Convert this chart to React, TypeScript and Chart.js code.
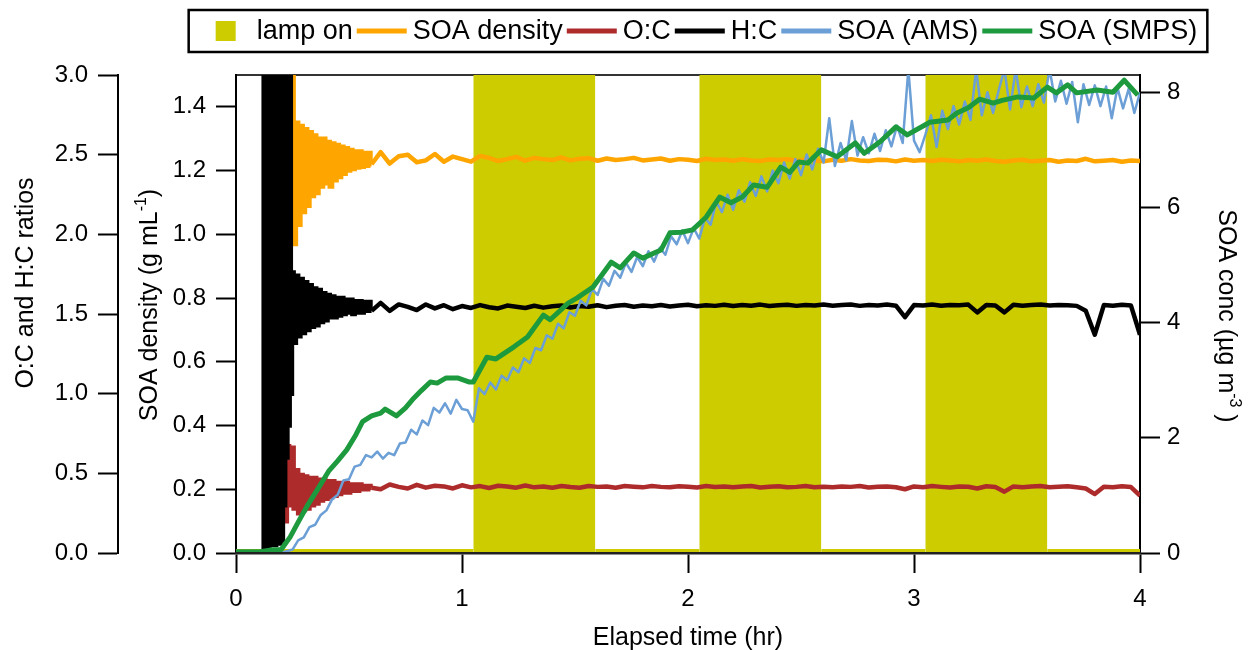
import { useEffect, useRef } from 'react';
import { Chart, registerables } from 'chart.js';

Chart.register(...registerables);

const FONT = "'Liberation Sans', Arial, Helvetica, sans-serif";

// ---- tick labels ----
const X_TICKS = [0, 1, 2, 3, 4];
const RATIO_TICKS = [0, 0.5, 1.0, 1.5, 2.0, 2.5, 3.0];
const DENSITY_TICKS = [0, 0.2, 0.4, 0.6, 0.8, 1.0, 1.2, 1.4];
const CONC_TICKS = [0, 2, 4, 6, 8];

// ---- lamp state (1 = on) ----
const LAMP_T = [0, 1.05, 1.05, 1.59, 1.59, 2.05, 2.05, 2.59, 2.59, 3.05, 3.05, 3.59, 3.59, 4.0];
const LAMP_ON = [0, 0, 1, 1, 0, 0, 1, 1, 0, 0, 1, 1, 0, 0];

// ---- SOA density (g/mL) ----
const DENSITY_EARLY_T0 = 0.23;
const DENSITY_EARLY_DT = 0.01;
const DENSITY_EARLY = [1.60, 1.00, 1.55, 0.97, 1.35, 1.03, 1.34, 1.07, 1.33, 1.09, 1.32, 1.12, 1.31, 1.13, 1.30, 1.15, 1.30, 1.16, 1.29, 1.15, 1.285, 1.17, 1.28, 1.18, 1.275, 1.19, 1.27, 1.20, 1.265, 1.205, 1.26, 1.21, 1.26, 1.212, 1.255, 1.215, 1.255, 1.22];
const LATE_T0 = 0.64;
const LATE_DT = 0.04;
const DENSITY_LATE = [
  1.258, 1.222, 1.245, 1.250, 1.226, 1.232, 1.252, 1.228, 1.244, 1.236,
  1.228, 1.246, 1.240, 1.230, 1.236, 1.243, 1.231, 1.240, 1.236, 1.233,
  1.241, 1.232, 1.237, 1.239, 1.231, 1.238, 1.233, 1.236, 1.240, 1.232,
  1.235, 1.238, 1.231, 1.236, 1.234, 1.230, 1.237, 1.233, 1.235, 1.231,
  1.236, 1.232, 1.230, 1.235, 1.233, 1.236, 1.230, 1.234, 1.232, 1.229,
  1.234, 1.231, 1.236, 1.232, 1.230, 1.234, 1.233, 1.229, 1.235, 1.231,
  1.233, 1.230, 1.234, 1.232, 1.229, 1.233, 1.231, 1.235, 1.230, 1.228,
  1.232, 1.234, 1.229, 1.231, 1.233, 1.228, 1.232, 1.230, 1.237, 1.229,
  1.231, 1.233, 1.228, 1.232, 1.230,
];

// ---- O:C ratio ----
const OC_EARLY_T0 = 0.12;
const OC_EARLY_DT = 0.01;
const OC_EARLY = [
  0.92, 0.05, 0.10, 0.25, 0.08, 0.20, 0.12, 0.25, 0.15, 0.30,
  0.20, 0.67, 0.30, 0.66, 0.28, 0.52, 0.25, 0.49, 0.27, 0.48,
  0.28, 0.47, 0.30, 0.47, 0.31, 0.46, 0.33, 0.46, 0.34, 0.45,
  0.35, 0.45, 0.36, 0.44, 0.37, 0.44, 0.38, 0.44, 0.38, 0.43,
  0.39, 0.43, 0.39, 0.43, 0.40, 0.42, 0.40, 0.42, 0.41,
];
const OC_LATE = [
  0.40, 0.43, 0.415, 0.405, 0.428, 0.41, 0.422, 0.418, 0.405, 0.425,
  0.412, 0.42, 0.408, 0.422, 0.417, 0.41, 0.424, 0.412, 0.418, 0.41,
  0.42, 0.414, 0.41, 0.421, 0.415, 0.418, 0.41, 0.42, 0.416, 0.412,
  0.42, 0.415, 0.412, 0.419, 0.416, 0.411, 0.42, 0.414, 0.418, 0.412,
  0.417, 0.42, 0.411, 0.416, 0.419, 0.412, 0.415, 0.42, 0.413, 0.416,
  0.412, 0.418, 0.415, 0.42, 0.411, 0.416, 0.418, 0.413, 0.40, 0.418,
  0.413, 0.42, 0.415, 0.411, 0.418, 0.416, 0.405, 0.419, 0.414, 0.385,
  0.418, 0.412, 0.417, 0.42, 0.413, 0.416, 0.419, 0.412, 0.405, 0.37,
  0.416, 0.412, 0.419, 0.414, 0.36,
];

// ---- H:C ratio ----
const HC_EARLY_T0 = 0.12;
const HC_EARLY_DT = 0.005;
const HC_EARLY = [
  3.5, 0.04, 3.5, 0.05, 3.5, 0.04, 3.5, 0.05, 3.5, 0.06,
  3.5, 0.05, 3.5, 0.07, 3.5, 0.06, 3.5, 0.08, 3.5, 0.30,
  3.5, 0.60, 3.5, 0.80, 3.5, 1.00,
];
const HC_MID_T0 = 0.25;
const HC_MID_DT = 0.01;
const HC_MID = [
  1.76, 1.32, 1.74, 1.36, 1.72, 1.38, 1.70, 1.40, 1.68, 1.42,
  1.66, 1.43, 1.65, 1.45, 1.63, 1.46, 1.62, 1.48, 1.61, 1.48,
  1.60, 1.49, 1.60, 1.50, 1.59, 1.51, 1.59, 1.50, 1.58, 1.51,
  1.58, 1.51, 1.575, 1.52, 1.575, 1.52,
];
const HC_LATE = [
  1.57, 1.52, 1.56, 1.545, 1.525, 1.56, 1.535, 1.555, 1.53, 1.55,
  1.538, 1.556, 1.542, 1.535, 1.553, 1.546, 1.538, 1.552, 1.54, 1.548,
  1.554, 1.541, 1.55, 1.546, 1.555, 1.543, 1.552, 1.557, 1.546, 1.553,
  1.549, 1.556, 1.547, 1.554, 1.558, 1.549, 1.555, 1.551, 1.558, 1.55,
  1.556, 1.552, 1.559, 1.55, 1.555, 1.558, 1.551, 1.556, 1.553, 1.559,
  1.552, 1.556, 1.56, 1.551, 1.557, 1.554, 1.559, 1.552, 1.48, 1.556,
  1.553, 1.559, 1.552, 1.557, 1.555, 1.559, 1.51, 1.557, 1.553, 1.51,
  1.558, 1.552, 1.556, 1.559, 1.553, 1.557, 1.555, 1.551, 1.52, 1.37,
  1.556, 1.552, 1.558, 1.553, 1.37,
];

// ---- SOA (AMS), ug/m3 ----
const AMS_T0 = 0.2;
const AMS_DT = 0.025;
const AMS = [
  0.00, 0.03, 0.06, 0.22, 0.27, 0.45, 0.49, 0.66,
  0.74, 0.93, 1.01, 1.26, 1.28, 1.50, 1.53, 1.70,
  1.66, 1.76, 1.64, 1.74, 1.70, 1.90, 1.92, 2.14,
  2.06, 2.30, 2.22, 2.52, 2.44, 2.60, 2.42, 2.66,
  2.50, 2.48, 2.28, 2.86, 2.76, 2.96, 2.84, 3.08,
  3.00, 3.22, 3.14, 3.38, 3.30, 3.56, 3.52, 3.78,
  3.72, 3.98, 3.90, 4.18, 4.12, 4.38, 4.30, 4.58,
  4.48, 4.76, 4.64, 4.90, 4.78, 5.04, 4.88, 5.14,
  4.98, 5.24, 5.06, 5.30, 5.18, 5.50, 5.36, 5.60,
  5.38, 5.64, 5.46, 5.82, 5.70, 6.10, 5.92, 6.22,
  5.96, 6.30, 6.10, 6.44, 6.20, 6.54, 6.28, 6.64,
  6.42, 6.78, 6.50, 6.84, 6.56, 6.92, 6.66, 7.02,
  6.78, 7.55, 6.72, 7.12, 6.82, 7.50, 6.90, 7.22,
  6.94, 7.28, 6.98, 7.34, 7.06, 7.42, 7.12, 8.40,
  7.16, 6.96, 7.26, 7.60, 7.05, 7.68, 7.36, 7.76,
  7.44, 7.84, 7.52, 8.40, 7.60, 8.00, 7.64, 8.04,
  8.40, 7.70, 8.40, 7.74, 8.10, 7.76, 8.14, 7.82,
  8.40, 7.84, 8.20, 7.80, 8.18, 7.48, 8.14, 7.78,
  8.12, 7.76, 8.10, 7.55, 8.08, 7.72, 8.06, 7.64,
  8.00,
];

// ---- SOA (SMPS), ug/m3 ----
const SMPS_T = [0, 0.05, 0.10, 0.15, 0.20, 0.24, 0.28, 0.32, 0.36, 0.41, 0.45, 0.49, 0.53, 0.56, 0.60, 0.64, 0.66, 0.71, 0.75, 0.78, 0.82, 0.86, 0.89, 0.93, 0.98, 1.03, 1.05, 1.11, 1.15, 1.23, 1.29, 1.36, 1.39, 1.47, 1.51, 1.58, 1.66, 1.70, 1.76, 1.80, 1.88, 1.92, 1.97, 2.02, 2.08, 2.14, 2.19, 2.24, 2.29, 2.35, 2.41, 2.45, 2.49, 2.53, 2.59, 2.66, 2.74, 2.78, 2.85, 2.92, 2.97, 3.07, 3.15, 3.19, 3.24, 3.29, 3.35, 3.39, 3.46, 3.53, 3.59, 3.63, 3.68, 3.72, 3.81, 3.88, 3.93, 3.99];
const SMPS_V = [0.02, 0.02, 0.02, 0.05, 0.06, 0.28, 0.57, 0.85, 1.10, 1.42, 1.60, 1.79, 2.05, 2.28, 2.38, 2.43, 2.50, 2.38, 2.52, 2.66, 2.82, 2.97, 2.95, 3.04, 3.04, 2.97, 2.97, 3.40, 3.37, 3.58, 3.75, 4.13, 4.05, 4.34, 4.43, 4.62, 5.05, 4.95, 5.21, 5.12, 5.26, 5.56, 5.57, 5.61, 5.83, 6.18, 6.08, 6.18, 6.39, 6.35, 6.70, 6.61, 6.79, 6.77, 7.00, 6.88, 7.12, 6.94, 7.14, 7.40, 7.26, 7.48, 7.52, 7.64, 7.73, 7.88, 7.81, 7.86, 7.92, 7.90, 8.09, 7.99, 8.13, 7.99, 8.04, 8.00, 8.21, 7.95];

// ---- titles ----
const X_TITLE = 'Elapsed time (hr)';
type Part = { text: string; sup?: boolean };
const RATIO_TITLE: Part[] = [{ text: 'O:C and H:C ratios' }];
const DENSITY_TITLE: Part[] = [{ text: 'SOA density (g mL' }, { text: '-1', sup: true }, { text: ')' }];
const CONC_TITLE: Part[] = [{ text: 'SOA conc (µg m' }, { text: '-3', sup: true }, { text: ' )' }];

const grid = (t0: number, dt: number, vals: number[]) =>
  vals.map((v, i) => ({ x: +(t0 + i * dt).toFixed(4), y: v }));
const pairs = (ts: number[], vs: number[]) => ts.map((t, i) => ({ x: t, y: vs[i] }));

function drawRich(ctx: CanvasRenderingContext2D, parts: Part[], x: number, y: number, rot: number, size: number) {
  const supSize = Math.round(size * 0.62);
  ctx.save();
  ctx.translate(x, y);
  ctx.rotate(rot);
  ctx.textAlign = 'left';
  ctx.textBaseline = 'alphabetic';
  ctx.fillStyle = '#000';
  let total = 0;
  const widths = parts.map((p) => {
    ctx.font = `${p.sup ? supSize : size}px ${FONT}`;
    const w = ctx.measureText(p.text).width;
    total += w;
    return w;
  });
  let cx = -total / 2;
  parts.forEach((p, i) => {
    ctx.font = `${p.sup ? supSize : size}px ${FONT}`;
    ctx.fillText(p.text, cx, p.sup ? -size * 0.45 : 0);
    cx += widths[i];
  });
  ctx.restore();
}

const overlayPlugin = {
  id: 'overlay',
  afterDraw(chart: any) {
    const ctx: CanvasRenderingContext2D = chart.ctx;
    const ca = chart.chartArea;
    ctx.save();
    drawRich(ctx, [{ text: X_TITLE }], (ca.left + ca.right) / 2, 645, 0, 25);
    drawRich(ctx, RATIO_TITLE, 33, 283, -Math.PI / 2, 25);
    drawRich(ctx, DENSITY_TITLE, 157, 305, -Math.PI / 2, 25);
    drawRich(ctx, CONC_TITLE, 1219, 316, Math.PI / 2, 25);

    // legend
    const size = 27;
    ctx.font = `${size}px ${FONT}`;
    const items = chart.data.datasets
      .filter((ds: any) => !ds.legendHidden)
      .map((ds: any) => ({
        label: ds.label as string,
        color: ds.borderColor as string,
        box: !!ds.legendBox,
      }));
    const SYM = 50, GAP1 = 6, GAP2 = 4;
    const ws = items.map((it: any) => ctx.measureText(it.label).width);
    let total = 0;
    items.forEach((_: any, i: number) => { total += SYM + GAP1 + ws[i] + (i < items.length - 1 ? GAP2 : 0); });
    const padL = 12, padR = 10;
    const boxW = total + padL + padR;
    const bx = 698 - boxW / 2, by = 10, bh = 42;
    ctx.lineWidth = 2.5;
    ctx.strokeStyle = '#000';
    ctx.strokeRect(bx, by, boxW, bh);
    let x = bx + padL;
    const my = by + bh / 2;
    items.forEach((it: any, i: number) => {
      if (it.box) {
        ctx.fillStyle = it.color;
        ctx.fillRect(x + SYM / 2 - 10, my - 10, 20, 20);
      } else {
        ctx.strokeStyle = it.color;
        ctx.lineWidth = 5;
        ctx.beginPath();
        ctx.moveTo(x, my);
        ctx.lineTo(x + SYM, my);
        ctx.stroke();
      }
      x += SYM + GAP1;
      ctx.fillStyle = '#000';
      ctx.textAlign = 'left';
      ctx.textBaseline = 'middle';
      ctx.font = `${size}px ${FONT}`;
      ctx.fillText(it.label, x, my + 1);
      x += ws[i] + GAP2;
    });
    ctx.restore();
  },
};

const tickFont = { family: FONT, size: 24 };

function yAxis(position: 'left' | 'right', min: number, max: number, ticks: number[], digits: number, width: number, weight: number) {
  return {
    type: 'linear' as const,
    position,
    weight,
    min,
    max,
    afterBuildTicks: (s: any) => { s.ticks = ticks.map((v) => ({ value: v })); },
    afterFit: (s: any) => { s.width = width; },
    ticks: {
      font: tickFont,
      color: '#000',
      padding: position === 'left' ? 10 : 7,
      autoSkip: false,
      callback: (v: any) => Number(v).toFixed(digits),
    },
    grid: { display: true, drawOnChartArea: false, drawTicks: true, tickLength: 20, tickWidth: 2, tickColor: '#000' },
    border: { display: true, color: '#000', width: 2 },
  };
}

function splitSeries(label: string, color: string, axis: string, early: { x: number; y: number }[], late: { x: number; y: number }[], order: number) {
  const base = { yAxisID: axis, borderColor: color, borderWidth: 4.5, pointRadius: 0, fill: false, order };
  return [
    { ...base, label, data: early, stepped: 'middle' },
    { ...base, label, data: [early[early.length - 1], ...late], borderJoinStyle: 'round', legendHidden: true },
  ];
}

export default function App() {
  const ref = useRef<HTMLCanvasElement | null>(null);
  useEffect(() => {
    if (!ref.current) return;
    const lampColor = '#cccc00';
    const datasets: any[] = [
      {
        label: 'lamp on',
        data: pairs(LAMP_T, LAMP_ON),
        yAxisID: 'yL',
        borderColor: lampColor,
        backgroundColor: lampColor,
        borderWidth: 8,
        fill: 'origin',
        pointRadius: 0,
        order: 6,
        clip: { left: 0, top: 0, right: 0, bottom: 0 },
        segment: {
          borderColor: (c: any) => (c.p0.parsed.y === 0 && c.p1.parsed.y === 0 ? lampColor : 'rgba(0,0,0,0)'),
        },
        legendBox: true,
      },
      ...splitSeries('SOA density', '#ffa500', 'yD',
        grid(DENSITY_EARLY_T0, DENSITY_EARLY_DT, DENSITY_EARLY), grid(LATE_T0, LATE_DT, DENSITY_LATE), 5),
      ...splitSeries('O:C', '#ad2b2b', 'yR',
        grid(OC_EARLY_T0, OC_EARLY_DT, OC_EARLY), grid(LATE_T0, LATE_DT, OC_LATE), 4),
      ...splitSeries('H:C', '#000000', 'yR',
        [...grid(HC_EARLY_T0, HC_EARLY_DT, HC_EARLY), ...grid(HC_MID_T0, HC_MID_DT, HC_MID)], grid(LATE_T0, LATE_DT, HC_LATE), 3),
      {
        label: 'SOA (AMS)',
        data: grid(AMS_T0, AMS_DT, AMS),
        yAxisID: 'yC',
        borderColor: '#6b9fd6',
        borderWidth: 2.5,
        borderJoinStyle: 'round',
        pointRadius: 0,
        fill: false,
        order: 2,
      },
      {
        label: 'SOA (SMPS)',
        data: pairs(SMPS_T, SMPS_V),
        yAxisID: 'yC',
        borderColor: '#1d9a3e',
        borderWidth: 5,
        borderJoinStyle: 'round',
        pointRadius: 0,
        fill: false,
        order: 1,
      },
    ];
    const chart = new Chart(ref.current, {
      type: 'line',
      data: { datasets },
      options: {
        animation: false,
        responsive: false,
        devicePixelRatio: 1,
        events: [],
        layout: { padding: { top: 75, left: 0, right: 0, bottom: 0 } },
        plugins: { legend: { display: false }, tooltip: { enabled: false }, title: { display: false } },
        scales: {
          x: {
            type: 'linear',
            position: 'bottom',
            min: 0,
            max: 4,
            afterBuildTicks: (s: any) => { s.ticks = X_TICKS.map((v) => ({ value: v })); },
            afterFit: (s: any) => { s.height = 97; },
            ticks: { font: tickFont, color: '#000', padding: 12, maxRotation: 0, autoSkip: false, callback: (v: any) => String(v) },
            grid: { display: true, drawOnChartArea: false, drawTicks: true, tickLength: 20, tickWidth: 2, tickColor: '#000' },
            border: { display: true, color: '#222', width: 2.5, z: 1 },
          },
          xTop: {
            type: 'linear',
            position: 'top',
            min: 0,
            max: 4,
            ticks: { display: false },
            grid: { display: false, drawTicks: false },
            border: { display: true, color: '#333', width: 2 },
            afterFit: (s: any) => { s.height = 0; },
          },
          yR: yAxis('left', 0, 3, RATIO_TICKS, 1, 118, 2),
          yD: yAxis('left', 0, 1.5, DENSITY_TICKS, 1, 118, 1),
          yC: yAxis('right', 0, 8.3, CONC_TICKS, 0, 115, 1),
          yL: { type: 'linear', display: false, min: 0, max: 1 },
        } as any,
      } as any,
      plugins: [overlayPlugin],
    });
    return () => chart.destroy();
  }, []);
  return (
    <canvas
      ref={ref}
      width={1255}
      height={650}
      style={{ position: 'absolute', left: 0, top: 0, width: 1255, height: 650 }}
    />
  );
}
